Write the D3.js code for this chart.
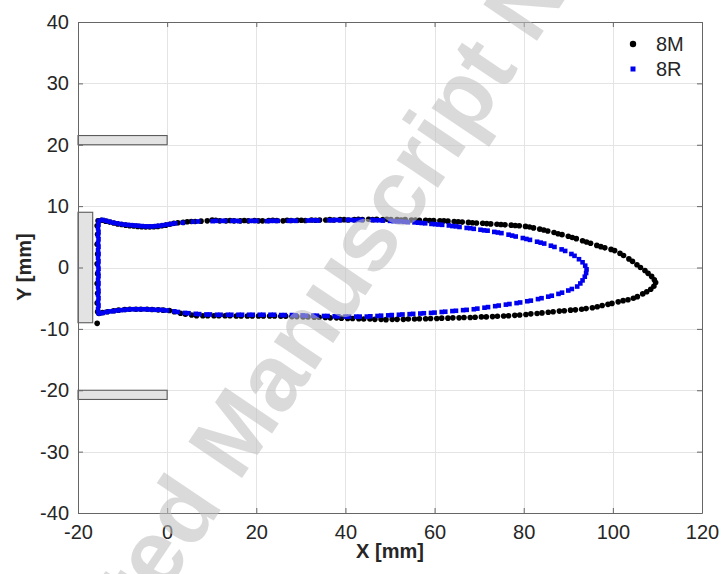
<!DOCTYPE html>
<html>
<head>
<meta charset="utf-8">
<script src="https://cdn.jsdelivr.net/npm/d3@7"></script>
<style>
  html, body { margin: 0; padding: 0; background: #fff; }
  svg { display: block; font-family: Arial, "Liberation Sans", Helvetica, sans-serif; }
</style>
</head>
<body>
<svg id="chart" width="723" height="574"></svg>
<script>
// axis ticks
var xTicks = [-20, 0, 20, 40, 60, 80, 100, 120];
var yTicks = [-40, -30, -20, -10, 0, 10, 20, 30, 40];

// grey walls drawn in data units: [x0, x1, y0, y1]
var walls = [
  [-20, 0, 20, 21.5],
  [-20, 0, -21.5, -20],
  [-20, -16.7, -9, 9]
];

// 8M contour points (black)
var m8 = [
  [-15.7,-9.1],[-15.6,-7.2],[-15.7,-5.8],[-15.6,-4.2],[-15.7,-2.6],[-15.6,-1.0],[-15.7,0.6],[-15.6,2.2],[-15.7,3.8],[-15.6,5.4],[-15.7,6.8],
  [-15.5,7.6],[-14.7,7.7],[-13.8,7.55],[-12.9,7.4],[-12.0,7.25],[-11.1,7.1],[-10.2,7.0],[-9.3,6.9],[-8.4,6.8],[-7.5,6.75],[-6.6,6.7],
  [-5.7,6.65],[-4.8,6.6],[-3.9,6.6],[-3.0,6.65],[-2.1,6.7],[-1.2,6.8],[-0.3,6.9],[0.6,7.05],[1.5,7.2],[2.4,7.3],[3.6,7.35],[4.5,7.45],
  [5.4,7.5],[6.3,7.5],[7.6,7.55],[9.0,7.6],[10.1,7.75],[10.9,7.7],[11.8,7.6],[13.2,7.6],[14.1,7.65],[15.0,7.6],[16.4,7.6],[17.3,7.65],
  [18.2,7.6],[19.6,7.65],[20.5,7.6],[21.4,7.6],[22.8,7.65],[23.7,7.7],[24.6,7.65],[26.0,7.6],[26.9,7.7],[27.8,7.65],[29.2,7.7],[30.1,7.7],
  [31.0,7.65],[32.4,7.75],[33.3,7.7],[34.2,7.75],[35.6,7.75],[36.5,7.8],[37.4,7.75],[38.8,7.8],[39.7,7.8],[40.6,7.75],[42.0,7.8],[42.9,7.85],
  [43.8,7.8],[45.2,7.85],[46.1,7.8],[47.0,7.85],[48.4,7.8],[49.3,7.85],[50.2,7.8],[51.6,7.8],[52.5,7.75],[53.4,7.8],[54.8,7.75],[55.7,7.75],
  [56.6,7.7],[58.0,7.7],[58.9,7.65],[59.8,7.65],[61.2,7.6],[62.1,7.6],[63.0,7.55],[64.4,7.5],[65.3,7.45],[66.2,7.4],[67.6,7.35],[68.5,7.3],
  [69.4,7.25],[70.8,7.2],[71.7,7.15],[72.6,7.1],[74.0,7.05],[74.9,7.0],[75.8,6.95],[77.2,6.9],[78.1,6.85],[79.0,6.8],[80.4,6.7],[81.3,6.6],
  [82.2,6.45],[83.6,6.25],[84.5,6.1],[85.4,5.95],[86.8,5.7],[87.7,5.5],[88.6,5.35],[90.0,5.1],[90.9,4.9],[91.8,4.7],[93.2,4.35],[94.1,4.15],
  [95.0,3.95],[96.4,3.6],[97.3,3.4],[98.2,3.2],[99.6,2.95],[100.4,2.75],[101.6,2.3],[102.4,1.95],[103.6,1.4],[104.4,1.0],[105.4,0.45],
  [106.2,0.0],[107.2,-0.5],[107.9,-0.95],[108.7,-1.45],[109.3,-2.0],[109.6,-2.45],[109.2,-3.05],[108.5,-3.55],[107.6,-3.95],[106.7,-4.3],
  [105.5,-4.75],[104.6,-5.0],[103.4,-5.25],[102.3,-5.4],[101.2,-5.6],[99.8,-5.85],[98.9,-6.0],[97.6,-6.2],[96.5,-6.4],[95.4,-6.55],[94.0,-6.7],
  [93.0,-6.8],[91.6,-6.9],[90.5,-6.95],[89.1,-7.05],[88.0,-7.1],[86.6,-7.2],[85.5,-7.3],[84.1,-7.4],[83.0,-7.5],[81.6,-7.55],[80.5,-7.65],
  [79.1,-7.75],[78.0,-7.8],[76.6,-7.85],[75.5,-7.9],[74.1,-7.95],[73.0,-8.0],[71.6,-8.05],[70.5,-8.05],[69.1,-8.1],[68.0,-8.15],[66.6,-8.15],
  [65.5,-8.2],[64.1,-8.2],[63.0,-8.25],[61.6,-8.25],[60.5,-8.3],[59.1,-8.3],[58.0,-8.35],[56.6,-8.35],[55.5,-8.4],[54.1,-8.4],[53.0,-8.45],
  [51.6,-8.45],[50.5,-8.45],[49.1,-8.5],[48.0,-8.45],[46.6,-8.45],[45.5,-8.4],[44.1,-8.4],[43.0,-8.35],[41.6,-8.3],[40.5,-8.3],[39.1,-8.25],
  [38.0,-8.2],[36.6,-8.2],[35.5,-8.15],[34.1,-8.1],[33.0,-8.1],[31.6,-8.05],[30.5,-8.05],[29.1,-8.0],[28.0,-8.0],[26.6,-7.95],[25.5,-7.95],
  [24.1,-7.9],[23.0,-7.9],[21.6,-7.9],[20.5,-7.9],[19.1,-7.9],[18.0,-7.9],[16.6,-7.9],[15.5,-7.9],[14.1,-7.85],[13.0,-7.85],[11.6,-7.85],
  [10.5,-7.85],[9.1,-7.85],[8.0,-7.85],[6.6,-7.85],[5.5,-7.75],[4.1,-7.6],[3.0,-7.45],[1.6,-7.2],[0.5,-7.0],[-0.9,-6.95],[-2.0,-6.9],
  [-3.4,-6.85],[-4.5,-6.8],[-5.9,-6.8],[-7.0,-6.8],[-8.4,-6.8],[-9.5,-6.85],[-10.9,-6.95],[-12.0,-7.05],[-13.4,-7.2],[-14.5,-7.35],[-15.3,-7.5]
];

// 8R contour points (blue)
var r8 = [
  [-15.4,-7.4],[-15.5,-6.8],[-15.4,-6.2],[-15.5,-5.6],[-15.4,-5.0],[-15.5,-4.4],[-15.4,-3.8],[-15.5,-3.2],[-15.4,-2.6],[-15.5,-2.0],
  [-15.4,-1.4],[-15.5,-0.8],[-15.4,-0.2],[-15.5,0.4],[-15.4,1.0],[-15.5,1.6],[-15.4,2.2],[-15.5,2.8],[-15.4,3.4],[-15.5,4.0],[-15.4,4.6],
  [-15.5,5.2],[-15.4,5.8],[-15.5,6.4],[-15.4,7.0],[-15.3,7.6],
  [-14.5,7.75],[-13.7,7.6],[-12.9,7.45],[-12.1,7.3],[-11.3,7.2],[-10.5,7.1],[-9.7,7.0],[-8.9,6.95],[-8.1,6.9],[-7.3,6.85],[-6.5,6.8],
  [-5.7,6.75],[-4.9,6.7],[-4.1,6.7],[-3.3,6.7],[-2.5,6.75],[-1.7,6.8],[-0.9,6.9],[0.0,7.0],[0.9,7.1],[1.8,7.2],[3.5,7.3],[5.8,7.45],
  [7.0,7.5],[10.2,7.55],[11.0,7.6],[12.2,7.6],[13.0,7.6],[14.6,7.6],[15.4,7.6],[16.2,7.55],[18.5,7.6],[19.3,7.6],[20.1,7.6],[22.4,7.55],
  [23.2,7.6],[24.0,7.6],[24.8,7.6],[27.3,7.6],[28.1,7.65],[28.9,7.6],[31.5,7.65],[32.3,7.7],[33.1,7.7],[33.9,7.65],[36.4,7.7],[37.2,7.7],
  [38.0,7.75],[38.8,7.7],[40.5,7.75],[41.3,7.75],[42.1,7.7],[42.9,7.75],[43.7,7.75],[46.0,7.75],[46.8,7.7],[47.6,7.7],[48.4,7.65],
  [50.0,7.6],[50.8,7.55],[51.6,7.5],[52.4,7.5],[53.2,7.45],[54.0,7.4],[55.5,7.35],[56.3,7.3],[57.1,7.25],[57.9,7.2],[59.3,7.1],[60.1,7.05],
  [60.9,7.0],[61.7,6.95],[63.2,6.85],[64.0,6.75],[64.8,6.7],[65.6,6.6],[67.2,6.45],[68.0,6.4],[68.8,6.3],[70.3,6.15],[71.1,6.05],[71.9,6.0],
  [73.4,5.8],[74.2,5.7],[75.0,5.6],[76.6,5.35],[77.4,5.2],[78.2,5.05],[79.8,4.8],[80.6,4.65],[81.4,4.5],[83.0,4.2],[83.8,4.05],[84.6,3.9],
  [86.1,3.55],[86.9,3.35],[88.5,2.95],[89.3,2.7],[90.7,2.2],[91.4,1.9],[92.4,1.35],[93.2,0.85],[93.8,0.3],[94.1,-0.3],[94.0,-0.9],
  [93.7,-1.5],[93.2,-2.1],[92.7,-2.6],[92.0,-3.1],[90.8,-3.5],[90.0,-3.75],[88.6,-4.1],[87.8,-4.3],[86.3,-4.6],[85.5,-4.75],[84.0,-5.0],
  [83.2,-5.15],[81.6,-5.4],[80.8,-5.5],[79.2,-5.7],[78.4,-5.8],[76.8,-5.95],[76.0,-6.05],[74.4,-6.2],[73.6,-6.3],[72.0,-6.45],[71.2,-6.55],
  [69.6,-6.7],[68.8,-6.8],[67.2,-6.9],[66.4,-6.95],[64.8,-7.05],[64.0,-7.1],[62.4,-7.2],[61.6,-7.25],[60.0,-7.35],[59.2,-7.4],[57.6,-7.45],
  [56.8,-7.5],[55.2,-7.55],[54.4,-7.6],[52.8,-7.65],[52.0,-7.7],[50.4,-7.75],[49.6,-7.8],[48.0,-7.85],[47.2,-7.9],[45.6,-7.95],[44.8,-8.0],
  [43.2,-8.0],[42.4,-8.0],[40.8,-8.0],[40.0,-8.0],[38.4,-7.95],[37.6,-7.95],[36.0,-7.9],[35.2,-7.9],[33.6,-7.85],[32.8,-7.85],[31.2,-7.85],
  [30.4,-7.8],[28.8,-7.8],[28.0,-7.75],[26.4,-7.75],[25.6,-7.75],[24.0,-7.7],[23.2,-7.7],[21.6,-7.7],[20.8,-7.7],[19.2,-7.7],[18.4,-7.7],
  [16.8,-7.7],[16.0,-7.7],[14.4,-7.7],[13.6,-7.7],[12.0,-7.7],[11.2,-7.7],[9.6,-7.65],[8.8,-7.65],[7.2,-7.6],[6.4,-7.55],[4.8,-7.45],
  [4.0,-7.4],[2.4,-7.25],[1.6,-7.15],[0.0,-7.0],[-0.8,-6.95],[-1.6,-6.9],[-2.4,-6.9],[-3.2,-6.85],[-4.0,-6.85],[-4.8,-6.8],[-5.6,-6.8],
  [-6.4,-6.8],[-7.2,-6.8],[-8.0,-6.8],[-8.8,-6.85],[-9.6,-6.9],[-10.4,-6.95],[-11.2,-7.0],[-12.0,-7.1],[-12.8,-7.15],[-13.6,-7.25],
  [-14.4,-7.4],[-15.2,-7.5]
];

var seriesNames = ["8M", "8R"];
var seriesColors = ["#000000", "#0000f0"];

var svg = d3.select("#chart");
var plotL = 78, plotR = 702, plotT = 22, plotB = 513;

var x = d3.scaleLinear().domain([-20, 120]).range([plotL, plotR]);
var y = d3.scaleLinear().domain([-40, 40]).range([plotB, plotT]);

// grid
var grid = svg.append("g").attr("stroke", "#e4e4e4").attr("stroke-width", 1);
grid.selectAll(".gx").data(xTicks).enter().append("line")
  .attr("x1", d => Math.round(x(d)) + 0.5).attr("x2", d => Math.round(x(d)) + 0.5)
  .attr("y1", plotT).attr("y2", plotB);
grid.selectAll(".gy").data(yTicks).enter().append("line")
  .attr("y1", d => Math.round(y(d)) + 0.5).attr("y2", d => Math.round(y(d)) + 0.5)
  .attr("x1", plotL).attr("x2", plotR);

// walls
svg.append("g").selectAll("rect").data(walls).enter().append("rect")
  .attr("x", d => x(d[0])).attr("width", d => x(d[1]) - x(d[0]))
  .attr("y", d => y(d[3])).attr("height", d => y(d[2]) - y(d[3]))
  .attr("fill", "#e3e3e3").attr("stroke", "#5c5c5c").attr("stroke-width", 1.1);

// series
svg.append("g").selectAll("circle").data(m8).enter().append("circle")
  .attr("cx", d => x(d[0])).attr("cy", d => y(d[1])).attr("r", 2.8)
  .attr("fill", seriesColors[0]);
svg.append("g").selectAll("rect").data(r8).enter().append("rect")
  .attr("x", d => x(d[0]) - 2.3).attr("y", d => y(d[1]) - 2.3)
  .attr("width", 4.6).attr("height", 4.6)
  .attr("fill", seriesColors[1]);

// axes (box with ticks on all sides)
var fmt = d => String(d);
var axCol = "#666666";
function styleAxis(g) {
  g.select(".domain").attr("stroke", axCol);
  g.selectAll(".tick line").attr("stroke", axCol);
  g.selectAll(".tick text").attr("fill", "#262626").attr("font-size", 20);
}
svg.append("g").attr("transform", "translate(0," + plotB + ")")
  .call(d3.axisBottom(x).tickValues(xTicks).tickFormat(fmt).tickSizeInner(-5).tickSizeOuter(0).tickPadding(12))
  .call(styleAxis);
svg.append("g").attr("transform", "translate(0," + plotT + ")")
  .call(d3.axisTop(x).tickValues(xTicks).tickFormat("").tickSizeInner(-5).tickSizeOuter(0))
  .call(styleAxis);
svg.append("g").attr("transform", "translate(" + plotL + ",0)")
  .call(d3.axisLeft(y).tickValues(yTicks).tickFormat(fmt).tickSizeInner(-5).tickSizeOuter(0).tickPadding(9))
  .call(styleAxis);
svg.append("g").attr("transform", "translate(" + plotR + ",0)")
  .call(d3.axisRight(y).tickValues(yTicks).tickFormat("").tickSizeInner(-5).tickSizeOuter(0))
  .call(styleAxis);

// axis labels
svg.append("text").attr("x", 390).attr("y", 558).attr("text-anchor", "middle")
  .attr("font-size", 20).attr("font-weight", "bold").attr("fill", "#262626").text("X [mm]");
svg.append("text").attr("transform", "translate(31,267) rotate(-90)").attr("text-anchor", "middle")
  .attr("font-size", 20).attr("font-weight", "bold").attr("fill", "#262626").text("Y [mm]");

// legend
var lg = svg.append("g");
lg.append("circle").attr("cx", 633).attr("cy", 44).attr("r", 3.2).attr("fill", seriesColors[0]);
lg.append("rect").attr("x", 630.5).attr("y", 66.5).attr("width", 5).attr("height", 5).attr("fill", seriesColors[1]);
lg.selectAll("text").data(seriesNames).enter().append("text")
  .attr("x", 656).attr("y", (d, i) => 51 + i * 25)
  .attr("font-size", 20).attr("fill", "#262626").text(d => d);

// watermark
var wmFont = { size: 94, weight: "bold" };
var probe = svg.append("text").attr("font-size", wmFont.size).attr("font-weight", wmFont.weight).text("Accepted ");
var prefix = probe.node().getComputedTextLength();
probe.remove();
svg.append("text")
  .attr("transform", "translate(224,505) rotate(-56)")
  .attr("x", -prefix)
  .attr("font-size", wmFont.size).attr("font-weight", wmFont.weight)
  .attr("fill", "#c0c0c0").attr("fill-opacity", 0.58)
  .text("Accepted Manuscript Not Copyedited");
</script>
</body>
</html>
